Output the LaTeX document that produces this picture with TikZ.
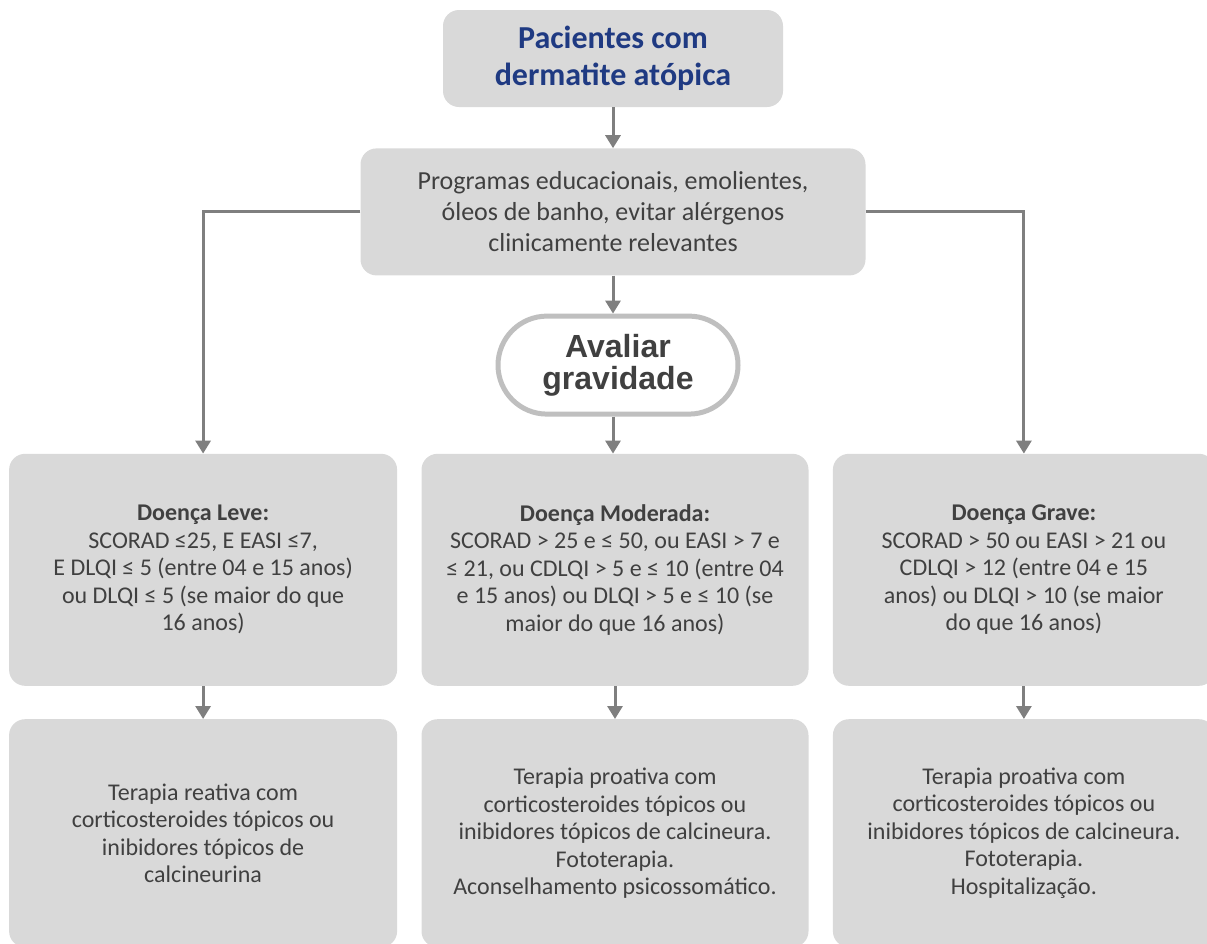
\documentclass[tikz,border=0pt]{standalone}
\usepackage{fontspec}
\setmainfont{Carlito}
\newfontfamily\arialfont{Liberation Sans}
\usepackage{tikz}
\usetikzlibrary{positioning}
\usetikzlibrary{arrows.meta}
\definecolor{boxgray}{HTML}{D9D9D9}
\definecolor{linegray}{HTML}{7F7F7F}
\definecolor{ringgray}{HTML}{BFBFBF}
\definecolor{textgray}{HTML}{404040}
\definecolor{titleblue}{HTML}{1F3A82}
\tikzset{	x=1pt, y=-1pt,
	>={Triangle[width=15pt,length=13pt]},
	box/.style={
		rectangle,
		rounded corners=16pt,
		fill=boxgray,
		text=textgray,
		inner sep=0pt,
		align=center,
		font=\fontsize{24}{27.5}\selectfont},
	titlebox/.style={
		box,
		minimum width=340pt, minimum height=97pt,
		text=titleblue,
		font=\fontsize{32}{37}\selectfont\bfseries},
	gate/.style={
		rectangle,
		rounded corners=49pt,
		draw=ringgray, line width=5pt,
		fill=white,
		text=textgray,
		inner sep=0pt,
		align=center,
		minimum width=240pt, minimum height=98pt,
		font=\arialfont\bfseries\fontsize{32}{32}\selectfont},
	link/.style={
		draw=linegray,
		line width=3pt,
		->}
}

\begin{document}
\begin{tikzpicture}
	\useasboundingbox (0,0) rectangle (1207,943);
	\clip (0,0) rectangle (1207,943);
	\node[titlebox] (pac) at (613,58.5) {Pacientes com\\dermatite atópica};
	\node[box, below=41pt of pac, minimum width=505pt, minimum height=127pt,
		font=\fontsize{26}{31}\selectfont] (prog) {Programas educacionais, emolientes,\\óleos de banho, evitar alérgenos\\clinicamente relevantes};
	\node[gate, below=38pt of prog, xshift=5pt] (aval) {Avaliar\\gravidade};
	\node[box, below=37pt of aval, xshift=-3pt, minimum width=387pt, minimum height=232pt] (moderada)
		{\textbf{Doença Moderada:}\\SCORAD > 25 e ≤ 50, ou EASI > 7 e\\≤ 21, ou CDLQI > 5 e ≤ 10 (entre 04\\e 15 anos) ou DLQI > 5 e ≤ 10 (se\\maior do que 16 anos)};
	\node[box, left=24pt of moderada, minimum width=388pt, minimum height=232pt] (leve)
		{\textbf{Doença Leve:}\\SCORAD ≤25, E EASI ≤7,\\E DLQI ≤ 5 (entre 04 e 15 anos)\\ou DLQI ≤ 5 (se maior do que\\16 anos)};
	\node[box, right=24pt of moderada, minimum width=382pt, minimum height=232pt] (grave)
		{\textbf{Doença Grave:}\\SCORAD > 50 ou EASI > 21 ou\\CDLQI > 12 (entre 04 e 15\\anos) ou DLQI > 10 (se maior\\do que 16 anos)};
	\node[box, below=33pt of leve, minimum width=388pt, minimum height=228pt] (reativa)
		{Terapia reativa com\\corticosteroides tópicos ou\\inibidores tópicos de\\calcineurina};
	\node[box, below=33pt of moderada, minimum width=387pt, minimum height=228pt] (proativa)
		{Terapia proativa com\\corticosteroides tópicos ou\\inibidores tópicos de calcineura.\\Fototerapia.\\Aconselhamento psicossomático.};
	\node[box, below=33pt of grave, minimum width=382pt, minimum height=228pt] (hosp)
		{Terapia proativa com\\corticosteroides tópicos ou\\inibidores tópicos de calcineura.\\Fototerapia.\\Hospitalização.};
	\draw[link] (pac) -- (prog);
	\draw[link] (prog.south -| pac) -- (aval.north -| pac);
	\draw[link] (aval.south -| pac) -- (moderada.north -| pac);
	\draw[link] (prog.west) -| (leve.north);
	\draw[link] (prog.east) -| (grave.north);
	\draw[link] (leve) -- (reativa);
	\draw[link] (moderada) -- (proativa);
	\draw[link] (grave) -- (hosp);
\end{tikzpicture}
\end{document}
